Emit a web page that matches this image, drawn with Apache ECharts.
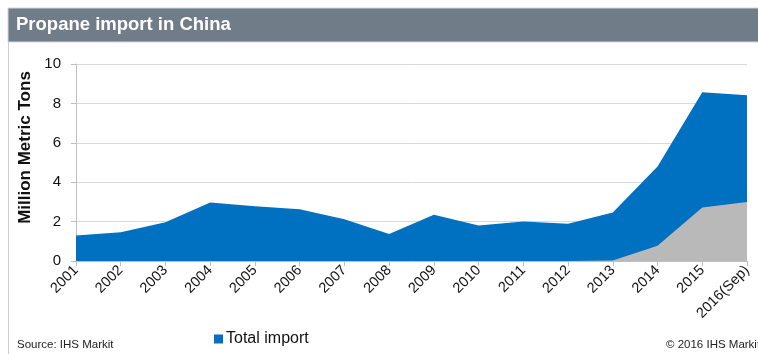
<!DOCTYPE html>
<html><head><meta charset="utf-8">
<script src="https://cdn.jsdelivr.net/npm/echarts@6/dist/echarts.min.js"></script>
<style>html,body{margin:0;padding:0;background:#fff}#c{width:758px;height:354px}</style>
</head><body><div id="c"></div>
<script>
const years = ['2001','2002','2003','2004','2005','2006','2007','2008','2009','2010','2011','2012','2013','2014','2015','2016(Sep)'];
const totalImport = [1.30,1.46,1.97,2.97,2.78,2.63,2.12,1.37,2.35,1.80,2.00,1.89,2.46,4.80,8.56,8.42];
const otherPart = [0,0,0,0,0,0,0,0,0,0,0,0,0.02,0.77,2.72,3.00];
const yTicks = [0,2,4,6,8,10];

const chart = echarts.init(document.getElementById('c'), null, {renderer:'canvas'});
chart.setOption({
  animation:false,
  graphic:[
    {type:'rect', shape:{x:8,y:8,width:760,height:34}, style:{fill:'#717c89', stroke:'#d3d7db', lineWidth:1}},
    {type:'line', shape:{x1:8.5,y1:42,x2:8.5,y2:354}, style:{stroke:'#d0d0d0', lineWidth:1}},
    {type:'text', left:16, top:15, style:{text:'Propane import in China', fill:'#ffffff', font:'bold 18.5px "Liberation Sans", Arial, sans-serif'}},
    {type:'text', left:17, top:339, style:{text:'Source: IHS Markit', fill:'#222', font:'11.5px "Liberation Sans", sans-serif'}},
    {type:'text', left:666, top:339, style:{text:'\u00a9 2016 IHS Markit', fill:'#222', font:'11.5px "Liberation Sans", sans-serif'}}
  ],
  legend:{data:['Total import'], left:209, top:326, icon:'rect', itemWidth:9, itemHeight:9, itemGap:4,
    textStyle:{fontSize:16, color:'#111', fontFamily:'"Liberation Sans",sans-serif', padding:[0,0,0,-2]}},
  grid:{left:76, right:11, top:64, bottom:93, containLabel:false},
  xAxis:{type:'category', data:years, boundaryGap:false,
    axisLine:{lineStyle:{color:'#bfbfbf'}},
    axisTick:{show:true, length:5, lineStyle:{color:'#bfbfbf'}},
    axisLabel:{rotate:45, fontSize:14.5, color:'#111', margin:7, fontFamily:'"Liberation Sans",Arial,sans-serif'},
    splitLine:{show:false}},
  yAxis:{type:'value', min:yTicks[0], max:yTicks[yTicks.length-1], interval:2,
    name:'Million Metric Tons', nameLocation:'middle', nameRotate:90, nameGap:41,
    nameTextStyle:{fontSize:17, fontWeight:'bold', color:'#111', fontFamily:'"Liberation Sans",Arial,sans-serif', padding:[0,0,0,30]},
    axisLine:{show:true, lineStyle:{color:'#bfbfbf'}},
    axisTick:{show:true, length:5, lineStyle:{color:'#bfbfbf'}},
    axisLabel:{fontSize:15, color:'#111', margin:15, fontFamily:'"Liberation Sans",Arial,sans-serif'},
    splitLine:{lineStyle:{color:'#d9d9d9'}}},
  series:[
    {name:'Total import', type:'line', data:totalImport, symbol:'none', lineStyle:{width:0}, itemStyle:{color:'#0070c0'}, areaStyle:{color:'#0070c0', opacity:1}, z:2},
    {name:'Other', type:'line', data:otherPart, symbol:'none', lineStyle:{width:0}, itemStyle:{color:'#b9b9b9'}, areaStyle:{color:'#b9b9b9', opacity:1}, z:3}
  ]
});
</script></body></html>
